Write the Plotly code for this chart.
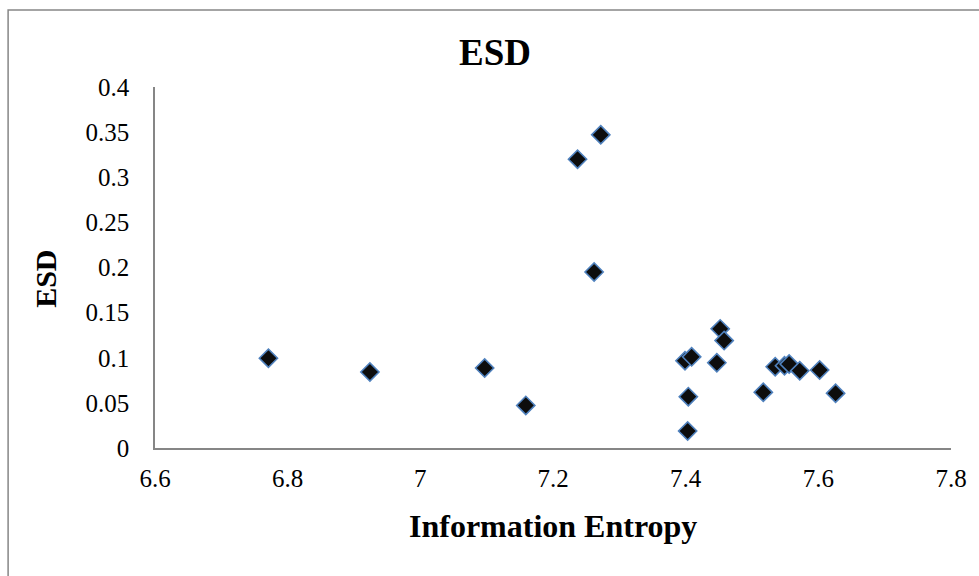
import plotly.graph_objects as go

# Data
info_entropy = [6.771, 6.924, 7.097, 7.159, 7.237, 7.272, 7.262, 7.399, 7.409, 7.404,
                7.403, 7.452, 7.458, 7.447, 7.517, 7.535, 7.549, 7.556, 7.572, 7.602, 7.626]
esd_values = [0.0995, 0.0842, 0.0886, 0.0472, 0.320, 0.347, 0.195, 0.0967, 0.101, 0.0569,
              0.0188, 0.132, 0.119, 0.0945, 0.0617, 0.090, 0.0912, 0.093, 0.0857, 0.0864, 0.0606]

x_ticks = [6.6, 6.8, 7.0, 7.2, 7.4, 7.6, 7.8]
x_tick_text = ["6.6", "6.8", "7", "7.2", "7.4", "7.6", "7.8"]
y_ticks = [0, 0.05, 0.1, 0.15, 0.2, 0.25, 0.3, 0.35, 0.4]
y_tick_text = ["0", "0.05", "0.1", "0.15", "0.2", "0.25", "0.3", "0.35", "0.4"]

FONT = "Liberation Serif, Times New Roman, serif"
AXIS_COLOR = "#868686"

fig = go.Figure()
fig.add_trace(go.Scatter(
    x=info_entropy, y=esd_values, mode="markers",
    marker=dict(symbol="diamond", size=14, color="#0d0d0d",
                line=dict(color="#4f81bd", width=1.6)),
    showlegend=False,
))

L, R, T, B = 155, 22, 87, 128
W, H = 979, 576
pw = W - L - R
ph = H - T - B

def px(xp):
    return (xp - L) / pw

def py(yp):
    return (H - B - yp) / ph

fig.update_layout(
    width=W, height=H,
    margin=dict(l=L, r=R, t=T, b=B),
    paper_bgcolor="white", plot_bgcolor="white",
    font=dict(family=FONT, color="black", size=25),
    xaxis=dict(range=[6.6, 7.8], tickvals=x_ticks, ticktext=x_tick_text,
               showgrid=False, zeroline=False, showline=True,
               linecolor=AXIS_COLOR, linewidth=1.5, ticks="",
               tickfont=dict(family=FONT, size=25, color="black"),
               ticklabelstandoff=7),
    yaxis=dict(range=[0, 0.4], tickvals=y_ticks, ticktext=y_tick_text,
               showgrid=False, zeroline=False, showline=True,
               linecolor=AXIS_COLOR, linewidth=1.5, ticks="",
               tickfont=dict(family=FONT, size=25, color="black"),
               ticklabelstandoff=19),
    shapes=[dict(type="rect", xref="paper", yref="paper",
                 x0=px(7), x1=px(995), y0=py(600), y1=py(10),
                 line=dict(color=AXIS_COLOR, width=1.5), fillcolor="rgba(0,0,0,0)",
                 layer="below")],
    annotations=[
        dict(text="<b>ESD</b>", xref="paper", yref="paper", x=px(498), y=py(52),
             xanchor="center", yanchor="middle", showarrow=False,
             font=dict(family=FONT, size=37, color="black")),
        dict(text="<b>Information Entropy</b>", xref="paper", yref="paper",
             x=px(556), y=py(526), xanchor="center", yanchor="middle", showarrow=False,
             font=dict(family=FONT, size=32, color="black")),
        dict(text="<b>ESD</b>", xref="paper", yref="paper", x=px(44), y=py(279),
             xanchor="center", yanchor="middle", showarrow=False, textangle=-90,
             font=dict(family=FONT, size=30, color="black")),
    ],
)

fig.write_html("out.html")
